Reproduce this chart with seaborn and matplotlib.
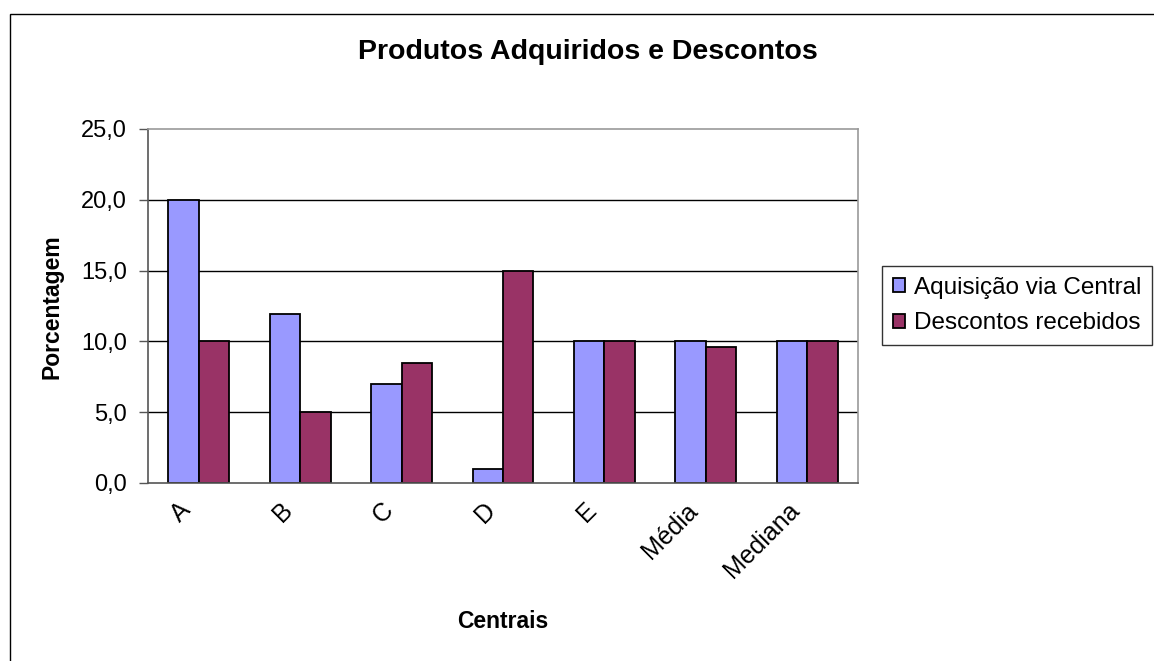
import numpy as np
import pandas as pd
import matplotlib
matplotlib.use("Agg")
import matplotlib.pyplot as plt
from matplotlib.patches import Rectangle
from matplotlib.transforms import ScaledTranslation
import seaborn as sns

# Data
centrais = ["A", "B", "C", "D", "E", "Média", "Mediana"]
aquisicao = [20.0, 11.9, 7.0, 1.0, 10.0, 10.0, 10.0]
descontos = [10.0, 5.0, 8.5, 15.0, 10.0, 9.6, 10.0]
series = ["Aquisição via Central", "Descontos recebidos"]
yticks = [0, 5, 10, 15, 20, 25]

df = pd.DataFrame({
    "Central": centrais * 2,
    "Serie": [series[0]] * len(centrais) + [series[1]] * len(centrais),
    "Valor": aquisicao + descontos,
})

sns.set_theme(style="white")
plt.rcParams["font.family"] = ["Liberation Sans", "DejaVu Sans"]
plt.rcParams["text.color"] = "black"
plt.rcParams["axes.labelcolor"] = "black"

fig = plt.figure(figsize=(11.54, 6.61), dpi=100)
ax = fig.add_axes([0.1282, 0.2693, 0.6153, 0.5356])

sns.barplot(data=df, x="Central", y="Valor", hue="Serie", order=centrais,
            hue_order=series, palette=["#9999FF", "#993366"], width=0.6,
            edgecolor="black", linewidth=1.3, saturation=1, ax=ax, legend=True)

ax.set_ylim(0, 25)
ax.set_xlim(-0.5, len(centrais) - 0.5)
ax.set_yticks(yticks)
ax.set_yticklabels([f"{v:.1f}".replace(".", ",") for v in yticks], fontsize=17)
for v in yticks[1:-1]:
    ax.axhline(v, color="black", linewidth=1.0, zorder=0)

# category labels in the middle, tick marks on the boundaries (Excel style)
ax.set_xticks(np.arange(len(centrais)))
ax.set_xticklabels(centrais, rotation=45, ha="right", rotation_mode="anchor", fontsize=18)
ax.tick_params(axis="x", which="major", length=0, pad=11, labelcolor="black")
ax.set_xticks(np.arange(len(centrais) + 1) - 0.5, minor=True)
ax.tick_params(axis="x", which="minor", length=6.5, color="#555555", width=1, direction="out")
ax.tick_params(axis="y", length=6.5, color="#555555", width=1, direction="out", left=True,
               pad=8.5, labelcolor="black")
shift = ScaledTranslation(-0.2, 0, fig.dpi_scale_trans)
for lab in ax.get_xticklabels():
    lab.set_transform(lab.get_transform() + shift)

for side in ["top", "right"]:
    ax.spines[side].set_color("#999999")
    ax.spines[side].set_linewidth(1.2)
for side in ["left", "bottom"]:
    ax.spines[side].set_color("#555555")
    ax.spines[side].set_linewidth(1.2)

ax.set_xlabel("")
ax.set_ylabel("")

fig.text(588 / 1154, 1 - 52 / 661, "Produtos Adquiridos e Descontos", ha="center", va="center",
         fontsize=20.5, fontweight="bold")
fig.text(503 / 1154, 1 - 621 / 661, "Centrais", ha="center", va="center",
         fontsize=16.5, fontweight="bold")
fig.text(52 / 1154, 1 - 307 / 661, "Porcentagem", ha="center", va="center", rotation=90,
         fontsize=16.5, fontweight="bold")

handles, labels = ax.get_legend_handles_labels()
ax.get_legend().remove()
leg = fig.legend(handles, labels, loc="upper left", bbox_to_anchor=(882 / 1154, 1 - 266 / 661),
                 fontsize=17.5, frameon=True, fancybox=False, handlelength=0.5, handleheight=0.5,
                 handletextpad=0.35, borderpad=0.45, labelspacing=0.55, borderaxespad=0)
leg.get_frame().set_edgecolor("black")
leg.get_frame().set_linewidth(1.0)

# outer chart-area border
fig.patches.append(Rectangle((10 / 1154, -0.05), 1.2, 1 - 14 / 661 + 0.05, transform=fig.transFigure,
                             fill=False, edgecolor="black", linewidth=1.0))

fig.savefig("out.png", dpi=100)
